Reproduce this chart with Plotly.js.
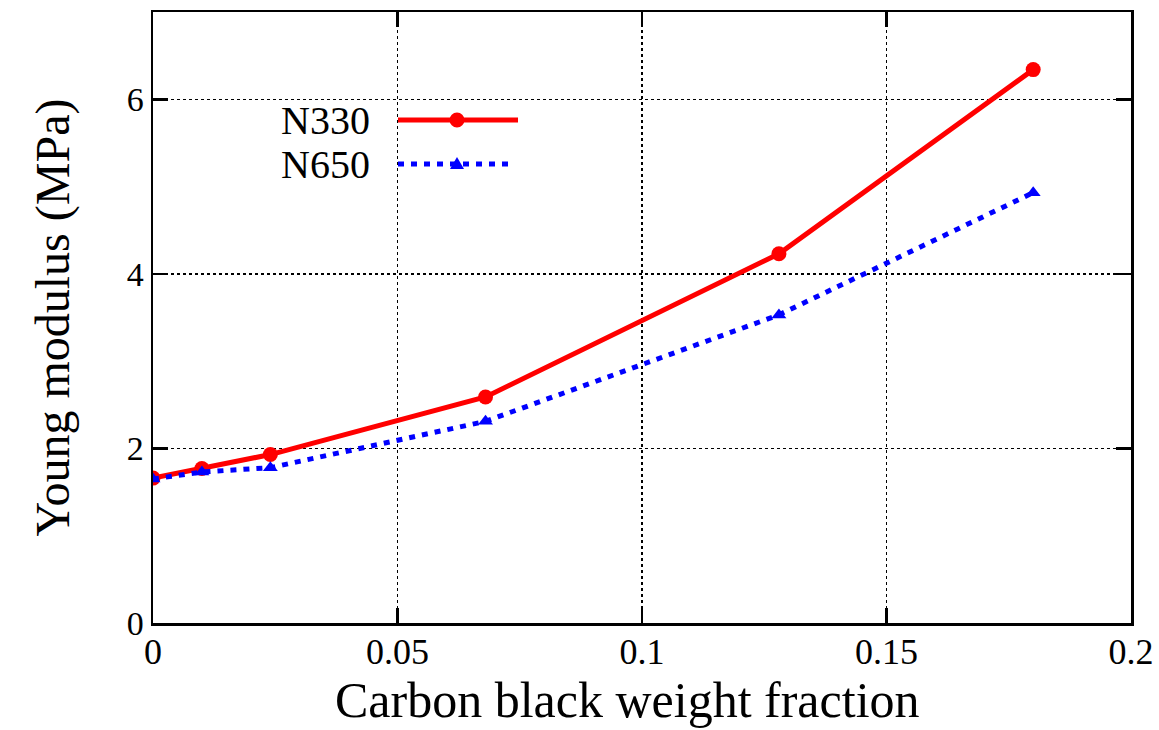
<!DOCTYPE html>
<html>
<head>
<meta charset="utf-8">
<script src="https://cdn.plot.ly/plotly-3.0.1.min.js"></script>
<style>html,body{margin:0;padding:0;background:#fff;}#chart{width:1159px;height:730px;}</style>
</head>
<body>
<div id="chart"></div>
<script>
// Data
const fraction = [0, 0.01, 0.024, 0.068, 0.128, 0.18];
const n330 = [1.66, 1.77, 1.93, 2.59, 4.23, 6.34];
const n650 = [1.65, 1.73, 1.78, 2.31, 3.53, 4.93];
const seriesNames = ["N330", "N650"];
const xTicks = [0, 0.05, 0.1, 0.15, 0.2];
const xTickLabels = ["0", "0.05", "0.1", "0.15", "0.2"];
const yTicks = [0, 2, 4, 6];
const yTickLabels = ["0", "2", "4", "6"];
const xTitle = "Carbon black weight fraction";
const yTitle = "Young modulus (MPa)";

const FONT = "'Liberation Serif', 'Times New Roman', serif";
const RED = "#ff0000";
const BLUE = "#0000ff";
const BLUE_DASH = "6px,7px";

// plot area in pixels (for legend placement conversion)
const L = 153, R = 28, T = 12, B = 107, W = 1159, H = 730;
const pw = W - L - R, ph = H - T - B;
const px = x => (x - L) / pw;
const py = y => (H - B - y) / ph;

const traces = [
  {x: fraction, y: n330, name: seriesNames[0], mode: "lines+markers",
   line: {color: RED, width: 5}, marker: {symbol: "circle", size: 15, color: RED},
   showlegend: false},
  {x: fraction, y: n650, name: seriesNames[1], mode: "lines+markers",
   line: {color: BLUE, width: 5, dash: BLUE_DASH}, marker: {symbol: "triangle-up", size: 13, color: BLUE},
   showlegend: false}
];

const axisCommon = {
  showline: true, linecolor: "#000", linewidth: 2.5, mirror: "ticks",
  ticks: "inside", ticklen: 15, tickwidth: 2.5, tickcolor: "#000",
  showgrid: true, gridcolor: "#000", gridwidth: 1.5, griddash: "dot",
  zeroline: false
};

const layout = {
  width: W, height: H,
  margin: {l: L, r: R, t: T, b: B},
  paper_bgcolor: "#fff", plot_bgcolor: "#fff",
  font: {family: FONT, color: "#000"},
  showlegend: false,
  xaxis: Object.assign({}, axisCommon, {
    range: [0, 0.2], tickvals: xTicks, ticktext: xTickLabels,
    tickfont: {family: FONT, size: 36, color: "#000"},
    ticklabelstandoff: -5
  }),
  yaxis: Object.assign({}, axisCommon, {
    range: [0, 7], tickvals: yTicks, ticktext: yTickLabels,
    tickfont: {family: FONT, size: 34, color: "#000"},
    title: {text: yTitle, font: {family: FONT, size: 48, color: "#000"}, standoff: 42}
  }),
  annotations: [
    {xref: "paper", yref: "paper", x: px(627), y: py(700), xanchor: "center", yanchor: "middle",
     text: xTitle, showarrow: false, font: {family: FONT, size: 50, color: "#000"}},
    {xref: "paper", yref: "paper", x: px(372), y: py(120), xanchor: "right", yanchor: "middle",
     text: seriesNames[0], showarrow: false, font: {family: FONT, size: 40, color: "#000"}},
    {xref: "paper", yref: "paper", x: px(372), y: py(164), xanchor: "right", yanchor: "middle",
     text: seriesNames[1], showarrow: false, font: {family: FONT, size: 40, color: "#000"}}
  ],
  shapes: [
    {type: "line", xref: "paper", yref: "paper", x0: px(398), x1: px(518), y0: py(120), y1: py(120),
     line: {color: RED, width: 5}},
    {type: "circle", xref: "paper", yref: "paper", xsizemode: "pixel", ysizemode: "pixel",
     xanchor: px(457), yanchor: py(120), x0: -7.5, x1: 7.5, y0: -7.5, y1: 7.5,
     fillcolor: RED, line: {color: RED, width: 0}},
    {type: "line", xref: "paper", yref: "paper", x0: px(398), x1: px(514), y0: py(164), y1: py(164),
     line: {color: BLUE, width: 5, dash: BLUE_DASH}},
    {type: "path", xref: "paper", yref: "paper", xsizemode: "pixel", ysizemode: "pixel",
     xanchor: px(457), yanchor: py(164), path: "M -7 -5 L 7 -5 L 0 7 Z",
     fillcolor: BLUE, line: {color: BLUE, width: 0}}
  ]
};

Plotly.newPlot("chart", traces, layout, {displayModeBar: false, staticPlot: true});
</script>
</body>
</html>
